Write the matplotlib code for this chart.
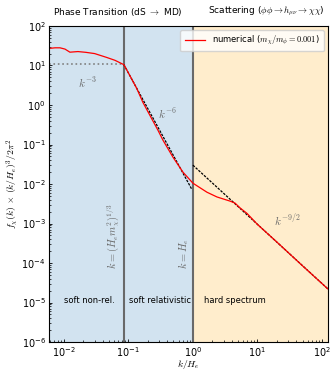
import matplotlib
matplotlib.use('Agg')
import matplotlib.pyplot as plt

plt.rcParams['mathtext.fontset'] = 'cm'
plt.rcParams['font.size'] = 6

# numerical spectrum
k_num = [0.00585, 0.0073, 0.0087, 0.0104, 0.0124, 0.0165, 0.022, 0.030, 0.046, 0.062, 0.085,
         0.105, 0.135, 0.168, 0.215, 0.287, 0.343, 0.49, 0.70, 1.0,
         1.65, 2.36, 3.75, 4.48, 5.35, 6.9, 10, 20, 50, 124]
f_num = [27, 28, 28, 26, 21.7, 22.5, 21.5, 20, 16, 13.5, 10.5,
         5.6, 2.6, 1.16, 0.55, 0.23, 0.129, 0.048, 0.020, 0.0105,
         0.0062, 0.0047, 0.0037, 0.0033, 0.0025, 0.0018, 9.5e-4, 3.4e-4, 8.5e-5, 2.2e-5]

# analytic guide lines (end points)
k1 = 0.085          # k = (H_e m_chi^2)^(1/3)
k_flat = [0.0059, k1]
f_flat = [10.8, 10.8]
k_rel = [k1, 0.95]
f_rel = [10.5, 7.6e-3]
k_hard = [1.0, 124]
f_hard = [0.03, 2.2e-5]

xticks = [1e-2, 1e-1, 1, 10, 100]
yticks = [1e-6, 1e-5, 1e-4, 1e-3, 1e-2, 1e-1, 1, 10, 100]

xmin, xmax = 0.0059, 124

fig = plt.figure(figsize=(3.34, 3.71), dpi=100)
ax = fig.add_axes([0.147, 0.078, 0.835, 0.852])
ax.set_xscale('log')
ax.set_yscale('log')
ax.set_xticks(xticks)
ax.set_yticks(yticks)
ax.set_xlim(xmin, xmax)
ax.set_ylim(1e-6, 1e2)

ax.axvspan(xmin, 1.0, color='C0', alpha=0.2, lw=0)
ax.axvspan(1.0, xmax, color='orange', alpha=0.2, lw=0)
ax.axvline(k1, color='dimgray', lw=1.5)
ax.axvline(1.0, color='dimgray', lw=1.5)

ax.plot(k_flat, f_flat, ls=':', color='gray', lw=1.2)
ax.plot(k_rel, f_rel, ls='--', color='k', lw=0.9, dashes=(2, 1))
ax.plot(k_hard, f_hard, ls='--', color='k', lw=0.9, dashes=(2, 1))
ax.plot(k_num, f_num, color='red', lw=0.9, label=r'numerical ($m_\chi/m_\phi = 0.001$)')

ax.text(0.0235, 3.7, r'$k^{-3}$', color='dimgray', fontsize=8, ha='center', va='center')
ax.text(0.40, 0.6, r'$k^{-6}$', color='dimgray', fontsize=8, ha='center', va='center')
ax.text(29, 1.2e-3, r'$k^{-9/2}$', color='dimgray', fontsize=8, ha='center', va='center')

ax.text(k1 * 0.94, 7e-5, r'$k=(H_e m_\chi^2)^{1/3}$', rotation=90, color='dimgray',
        fontsize=7.5, ha='right', va='bottom')
ax.text(0.94, 7e-5, r'$k=H_e$', rotation=90, color='dimgray',
        fontsize=7.5, ha='right', va='bottom')

ax.text(0.0245, 1.1e-5, 'soft non-rel.', fontsize=6, ha='center', va='center')
ax.text(0.31, 1.1e-5, 'soft relativistic', fontsize=6, ha='center', va='center')
ax.text(4.5, 1.1e-5, 'hard spectrum', fontsize=6, ha='center', va='center')

ax.text(0.245, 1.025, r'Phase Transition (dS $\rightarrow$ MD)', transform=ax.transAxes,
        fontsize=6.5, ha='center', va='bottom')
ax.text(0.78, 1.025, r'Scattering ($\phi\phi \rightarrow h_{\mu\nu} \rightarrow \chi\chi$)',
        transform=ax.transAxes, fontsize=6.5, ha='center', va='bottom')

ax.set_xlabel(r'$k/H_e$', fontsize=7, labelpad=-1)
ax.set_ylabel(r'$f_\chi(k)\,\times\,(k/H_e)^3/2\pi^2$', fontsize=7, labelpad=1)
ax.tick_params(which='both', direction='in', labelsize=7, pad=2.5)
ax.tick_params(which='major', length=2.5, width=0.6)
ax.tick_params(which='minor', length=1.5, width=0.5)

ax.legend(loc='upper right', fontsize=6, handlelength=2.5, borderpad=0.5)

fig.savefig('out.png', dpi=100)
